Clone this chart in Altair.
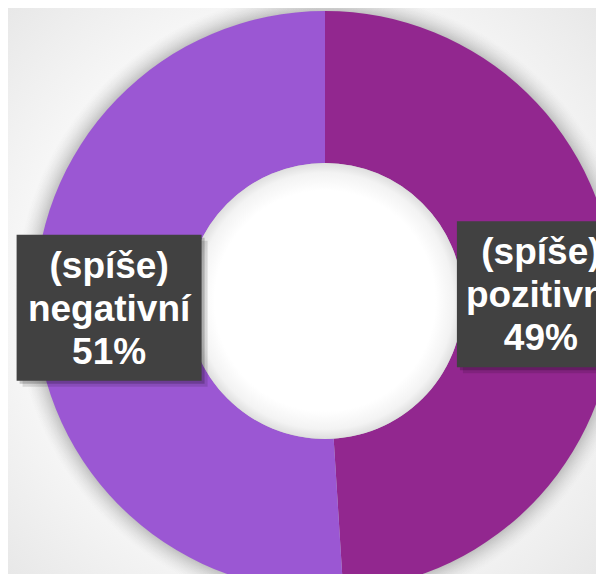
import math
import altair as alt
import pandas as pd

# ---- data ----
categories = ["(spíše) pozitivní", "(spíše) negativní"]
label_prefix = ["(spíše)", "(spíše)"]
label_names = ["pozitivní", "negativní"]
values = [49, 51]
colors = ["#92278F", "#9B57D3"]

# ---- layout / style ----
W, H = 588, 566
CX, CY = 317, 293
R_OUT, R_IN = 290, 138
LABEL_R = 216
BOX_W = {"(spíše) pozitivní": 168, "(spíše) negativní": 185}
BOX_H = 146
FONT = "Liberation Sans"
LINE_H = 43

total = sum(values)
rows = []
cum = 0
for i, (c, p, n, v) in enumerate(zip(categories, label_prefix, label_names, values)):
    start = cum / total * 2 * math.pi
    cum += v
    end = cum / total * 2 * math.pi
    mid = (start + end) / 2
    lx = CX + LABEL_R * math.sin(mid)
    ly = CY - LABEL_R * math.cos(mid)
    bw = BOX_W[c]
    rows.append(dict(category=c, value=v, order=i,
                     text=[p, n, f"{v}%"],
                     lx=lx, ly=ly,
                     bx1=lx - bw / 2, bx2=lx + bw / 2,
                     by1=ly - BOX_H / 2, by2=ly + BOX_H / 2))
df = pd.DataFrame(rows)
one = pd.DataFrame({"k": [0]})

bg = alt.Chart(one).mark_rect(
    fill={"gradient": "radial", "x1": 0.5, "y1": 0.5, "r1": 0, "x2": 0.5, "y2": 0.5, "r2": 0.75,
          "stops": [{"offset": 0, "color": "#ffffff"},
                    {"offset": 0.55, "color": "#fbfbfb"},
                    {"offset": 1, "color": "#e4e4e4"}]}
).encode(x=alt.value(0), x2=alt.value("width"), y=alt.value(0), y2=alt.value("height"))

halo = alt.Chart(one).mark_arc(
    theta=0, theta2=2 * math.pi, radius=R_OUT + 20, radius2=0,
    fill={"gradient": "radial", "x1": 0.5, "y1": 0.5, "r1": 0, "x2": 0.5, "y2": 0.5, "r2": 0.5,
          "stops": [{"offset": 0, "color": "rgba(150,150,150,0.6)"},
                    {"offset": R_OUT / (R_OUT + 20), "color": "rgba(150,150,150,0.55)"},
                    {"offset": 1, "color": "rgba(200,200,200,0)"}]}
).encode(x=alt.value(CX), y=alt.value(CY))

donut = alt.Chart(df).mark_arc(radius=R_OUT, radius2=R_IN).encode(
    theta=alt.Theta("value:Q", stack=True),
    order=alt.Order("order:Q"),
    color=alt.Color("category:N", scale=alt.Scale(domain=categories, range=colors), legend=None),
    x=alt.value(CX), y=alt.value(CY),
)

hole = alt.Chart(one).mark_arc(
    theta=0, theta2=2 * math.pi, radius=R_IN, radius2=0,
    fill={"gradient": "radial", "x1": 0.5, "y1": 0.5, "r1": 0, "x2": 0.5, "y2": 0.5, "r2": 0.5,
          "stops": [{"offset": 0, "color": "#ffffff"},
                    {"offset": 0.8, "color": "#ffffff"},
                    {"offset": 0.93, "color": "#f3f3f3"},
                    {"offset": 1, "color": "#dedede"}]}
).encode(x=alt.value(CX), y=alt.value(CY))

shadow1 = alt.Chart(df).mark_rect(color="#000000", opacity=0.12).encode(
    x=alt.X("sx1:Q", scale=None), x2="sx2:Q", y=alt.Y("sy1:Q", scale=None), y2="sy2:Q"
).transform_calculate(sx1="datum.bx1 + 6", sx2="datum.bx2 + 6", sy1="datum.by1 + 6", sy2="datum.by2 + 6")
shadow2 = alt.Chart(df).mark_rect(color="#000000", opacity=0.2).encode(
    x=alt.X("sx1:Q", scale=None), x2="sx2:Q", y=alt.Y("sy1:Q", scale=None), y2="sy2:Q"
).transform_calculate(sx1="datum.bx1 + 3", sx2="datum.bx2 + 3", sy1="datum.by1 + 3", sy2="datum.by2 + 3")

boxes = alt.Chart(df).mark_rect(color="#414141").encode(
    x=alt.X("bx1:Q", scale=None), x2="bx2:Q", y=alt.Y("by1:Q", scale=None), y2="by2:Q"
)

labels = alt.Chart(df).mark_text(
    font=FONT, fontSize=37, fontWeight="bold", color="#ffffff",
    align="center", baseline="middle", lineHeight=LINE_H, dy=-LINE_H + 2
).encode(x=alt.X("lx:Q", scale=None), y=alt.Y("ly:Q", scale=None), text="text")

chart = alt.layer(bg, halo, donut, hole, shadow1, shadow2, boxes, labels).properties(
    width=W, height=H, padding=0, autosize=alt.AutoSizeParams(type="none")
).configure_view(strokeWidth=0)

chart.save("out.html", embed_options={"renderer": "svg", "actions": False})
